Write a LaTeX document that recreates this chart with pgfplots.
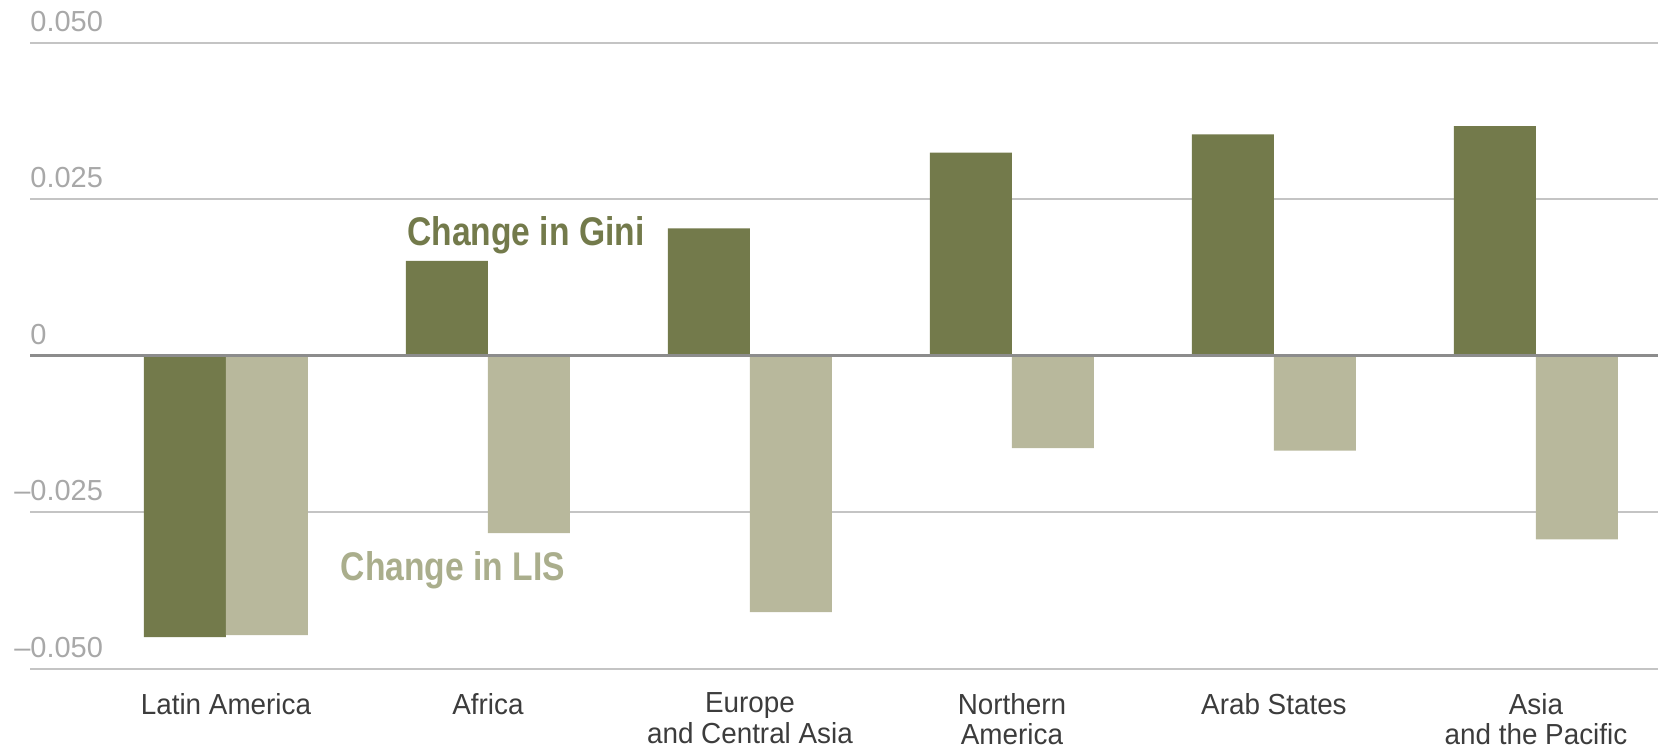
\documentclass[border=0pt]{standalone}
\usepackage{pgfplots}
\pgfplotsset{compat=1.18}
\usepackage{fontspec}
\setmainfont{Liberation Sans}
\newfontfamily\condfont[FakeStretch=0.96]{Liberation Sans}
\newfontfamily\condbold[FakeStretch=0.84]{Liberation Sans Bold}
\definecolor{gini}{HTML}{737A4B}
\definecolor{lis}{HTML}{B8B89C}
\definecolor{lislabel}{HTML}{AAAE8C}
\definecolor{tickgrey}{HTML}{A8A8A8}
\definecolor{gridgrey}{HTML}{C4C4C4}
\definecolor{zerogrey}{HTML}{8C8C8C}
\definecolor{catgrey}{HTML}{3C3C3C}
\begin{document}
\begin{tikzpicture}
\begin{axis}[
  scale only axis, width=814pt, height=313pt,
  xmin=-0.748, xmax=5.466, ymin=-0.05, ymax=0.05,
  ybar=0pt, bar width=0.313,
  axis line style={draw=none}, major tick length=0pt,
  scaled y ticks=false,
  ytick={-0.05,-0.025,0,0.025,0.05},
  yticklabels={\llap{–}0.050,\llap{–}0.025,0,0.025,0.050},
  yticklabel style={anchor=south west, inner sep=0pt, xshift=0pt, yshift=5.5pt,
    font=\fontsize{14.5}{17}\selectfont, text=tickgrey},
  xtick={0,1,2,3,4,5},
  xticklabels={Latin America, Africa, Europe\\and Central Asia, Northern\\America, Arab States, Asia\\and the Pacific},
  xticklabel style={align=center, anchor=north, inner sep=0pt, yshift=-11.8pt,
    font=\condfont\fontsize{14.5}{15.4}\selectfont, text=catgrey},
  ymajorgrids, grid style={line width=1pt, color=gridgrey},
  clip=false,
]
\addplot[fill=gini, draw=none] coordinates {(0,-0.0449) (1,0.0152) (2,0.0204) (3,0.0325) (4,0.0354) (5,0.0367)};
\addplot[fill=lis, draw=none] coordinates {(0,-0.0446) (1,-0.0283) (2,-0.0409) (3,-0.0147) (4,-0.0151) (5,-0.0293)};
\draw[line width=1.5pt, color=zerogrey] (rel axis cs:0,0.5) -- (rel axis cs:1,0.5);
\node[anchor=base west, inner sep=0pt, font=\condbold\fontsize{20}{20}\selectfont, text=gini] at (axis cs:0.691,0.01768) {Change in Gini};
\node[anchor=base west, inner sep=0pt, font=\condbold\fontsize{20}{20}\selectfont, text=lislabel] at (axis cs:0.437,-0.03586) {Change in LIS};
\end{axis}
\pgfresetboundingbox
\path (-15pt,-39.5pt) rectangle (814pt,334.5pt);
\end{tikzpicture}
\end{document}
